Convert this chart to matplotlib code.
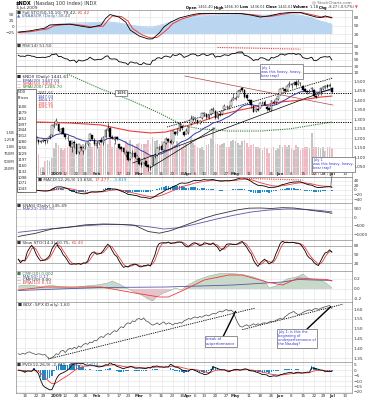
import numpy as np
import pandas as pd
import matplotlib
matplotlib.use("Agg")
import matplotlib.pyplot as plt

# ---- trading days shown (Dec 10 2008 .. Jul 2 2009)
holidays = ["2008-12-25", "2009-01-01", "2009-01-19", "2009-02-16", "2009-04-10", "2009-05-25"]
days = pd.bdate_range("2008-12-10", "2009-07-02")
days = days[~days.isin(pd.to_datetime(holidays))]
all_days = days.append(pd.bdate_range("2009-07-06", "2009-07-17"))

# ---- $NDX daily prices
close = [1215, 1185, 1195, 1185, 1240, 1235, 1215, 1210, 1185, 1180, 1185, 1190, 1185, 1200, 1212,
         1268, 1270, 1290, 1240, 1250, 1225, 1205, 1200, 1160, 1170, 1175, 1120, 1170, 1150, 1150, 1165, 1180, 1225, 1195, 1170,
         1175, 1185, 1180, 1205, 1245, 1255, 1205, 1200, 1205, 1195, 1150, 1145, 1130, 1125, 1085, 1125, 1120, 1100, 1105,
         1065, 1060, 1090, 1055, 1050, 1045, 1105, 1110, 1150, 1155, 1140, 1180, 1195, 1185, 1175, 1240, 1225, 1235, 1275, 1255, 1215, 1240,
         1260, 1300, 1310, 1305, 1280, 1290, 1330, 1335, 1310, 1320, 1350, 1355, 1305, 1330, 1320, 1345, 1370, 1365, 1360, 1395, 1410,
         1412, 1450, 1452, 1455, 1415, 1410, 1395, 1375, 1340, 1355, 1350, 1385, 1385, 1375, 1355, 1350, 1395, 1385, 1405, 1420,
         1460, 1462, 1450, 1475, 1485, 1482, 1490, 1480, 1495, 1488, 1455, 1448, 1440, 1450, 1462, 1420, 1418, 1435, 1462, 1468, 1475, 1470,
         1478, 1440]
open_ = [1225, 1210, 1170, 1195, 1190, 1235, 1235, 1215, 1210, 1190, 1182, 1188, 1190, 1185, 1200,
         1215, 1265, 1275, 1275, 1235, 1252, 1222, 1202, 1188, 1155, 1180, 1172, 1128, 1155, 1135, 1152, 1168, 1190, 1215, 1192,
         1160, 1178, 1190, 1175, 1205, 1245, 1252, 1205, 1190, 1205, 1170, 1155, 1148, 1115, 1130, 1090, 1120, 1125, 1090,
         1095, 1070, 1070, 1080, 1060, 1045, 1060, 1105, 1110, 1150, 1162, 1140, 1178, 1195, 1188, 1180, 1235, 1228, 1240, 1262, 1235, 1225,
         1230, 1275, 1300, 1300, 1295, 1282, 1305, 1325, 1328, 1305, 1325, 1350, 1345, 1305, 1325, 1325, 1355, 1365, 1360, 1370, 1400,
         1408, 1418, 1448, 1465, 1455, 1425, 1400, 1398, 1370, 1342, 1352, 1360, 1385, 1388, 1365, 1358, 1348, 1392, 1390, 1408,
         1428, 1458, 1458, 1452, 1478, 1478, 1485, 1495, 1482, 1490, 1475, 1458, 1450, 1442, 1458, 1455, 1422, 1425, 1432, 1458, 1470, 1478,
         1475, 1462]
high = [1235, 1215, 1200, 1198, 1245, 1245, 1240, 1225, 1212, 1195, 1190, 1195, 1192, 1202, 1220,
        1270, 1285, 1305, 1278, 1252, 1258, 1225, 1215, 1190, 1175, 1190, 1175, 1172, 1160, 1162, 1180, 1188, 1230, 1218, 1200,
        1185, 1192, 1205, 1210, 1250, 1280, 1258, 1215, 1210, 1210, 1172, 1160, 1155, 1140, 1135, 1130, 1140, 1130, 1115,
        1098, 1080, 1102, 1082, 1068, 1062, 1108, 1122, 1152, 1160, 1170, 1182, 1205, 1200, 1195, 1242, 1240, 1255, 1278, 1265, 1240, 1255,
        1265, 1320, 1315, 1312, 1298, 1295, 1335, 1340, 1332, 1325, 1358, 1365, 1348, 1335, 1345, 1350, 1378, 1375, 1372, 1405, 1435,
        1420, 1452, 1458, 1468, 1460, 1430, 1408, 1400, 1372, 1360, 1362, 1388, 1395, 1400, 1368, 1362, 1398, 1400, 1410, 1422,
        1462, 1470, 1460, 1478, 1498, 1488, 1498, 1505, 1515, 1495, 1478, 1462, 1455, 1458, 1470, 1458, 1428, 1445, 1465, 1472, 1480, 1485,
        1492, 1462]
low = [1205, 1180, 1160, 1175, 1188, 1220, 1210, 1200, 1175, 1172, 1178, 1182, 1172, 1178, 1198,
       1212, 1255, 1270, 1235, 1225, 1220, 1195, 1185, 1155, 1130, 1150, 1118, 1120, 1140, 1118, 1145, 1160, 1185, 1192, 1165,
       1150, 1165, 1175, 1165, 1200, 1240, 1200, 1195, 1170, 1190, 1145, 1135, 1125, 1100, 1082, 1085, 1100, 1095, 1085,
       1062, 1050, 1065, 1050, 1030, 1036, 1058, 1098, 1105, 1140, 1138, 1138, 1170, 1180, 1168, 1178, 1218, 1215, 1238, 1245, 1210, 1222,
       1225, 1270, 1290, 1285, 1275, 1275, 1300, 1318, 1300, 1300, 1320, 1340, 1300, 1300, 1315, 1320, 1350, 1355, 1352, 1368, 1398,
       1398, 1415, 1440, 1440, 1410, 1400, 1385, 1360, 1338, 1338, 1345, 1358, 1378, 1372, 1345, 1345, 1345, 1380, 1380, 1400,
       1425, 1450, 1440, 1448, 1470, 1465, 1478, 1470, 1480, 1475, 1450, 1442, 1432, 1438, 1450, 1418, 1410, 1420, 1428, 1455, 1460, 1462,
       1470, 1436]
volume = [1050, 1000, 950, 900, 1150, 1000, 1000, 1300, 800, 750, 250, 300, 500, 550, 500,
          600, 950, 1150, 1050, 950, 900, 950, 1000, 1100, 1250, 1150, 1100, 1100, 1050, 1100, 950, 1000, 1150, 1000, 1050,
          1000, 1000, 1100, 1150, 1250, 1100, 1450, 1000, 1150, 950, 1050, 1000, 1000, 1200, 1150, 1250, 1100, 1000, 1100,
          1150, 1100, 1100, 1100, 1250, 1100, 1350, 1200, 1250, 1100, 1200, 1150, 1250, 1200, 1600, 1150, 1050, 1200, 1100, 1000, 1050, 1100,
          1100, 1350, 1150, 1050, 1000, 950, 1000, 900, 1050, 1100, 1300, 1700, 1100, 1100, 1050, 1100, 1150, 1000, 1000, 1200, 1250,
          1200, 1150, 1050, 1200, 1250, 1150, 1000, 1050, 1100, 1000, 1000, 950, 900, 1000, 950, 800, 950, 1000, 900, 950,
          1050, 1000, 1050, 1000, 1050, 950, 900, 1050, 1000, 900, 950, 1000, 1000, 950, 1500, 1000, 1000, 1000, 950, 1000, 850, 1000,
          1000, 950]
# closes before the visible window, only used to seed the averages
warmup_close = [1190, 1300, 1300, 1340, 1340, 1345, 1400, 1340, 1280, 1310, 1290, 1270, 1200, 1270, 1215, 1190,
                1195, 1120, 1040, 1100, 1170, 1160, 1210, 1220, 1140, 1175, 1200, 1165, 1195, 1250, 1235]

# $NDX:$SPX ratio
ratio = [1.372, 1.368, 1.375, 1.370, 1.378, 1.382, 1.376, 1.372, 1.368, 1.372, 1.370, 1.366, 1.368,
         1.355, 1.348, 1.352,
         1.360, 1.372, 1.368, 1.385, 1.390, 1.378, 1.392, 1.400, 1.395, 1.405,
         1.398, 1.412, 1.405, 1.418, 1.425, 1.420, 1.432, 1.428, 1.440, 1.438,
         1.452, 1.460, 1.455, 1.468, 1.475, 1.470, 1.482, 1.490, 1.485, 1.500,
         1.510, 1.505, 1.522, 1.530, 1.525, 1.540, 1.535, 1.548, 1.552, 1.545,
         1.555, 1.540, 1.535, 1.525, 1.518, 1.522, 1.530, 1.520, 1.528, 1.535,
         1.522, 1.530, 1.526, 1.518, 1.528, 1.525, 1.532, 1.528, 1.540, 1.545,
         1.552, 1.548, 1.556, 1.560, 1.555, 1.562, 1.558, 1.566, 1.570, 1.565,
         1.572, 1.578, 1.575, 1.582, 1.590, 1.585, 1.592, 1.598, 1.590, 1.595,
         1.585, 1.555, 1.530, 1.512, 1.508, 1.515, 1.520, 1.512, 1.518, 1.525,
         1.518, 1.525, 1.520, 1.528, 1.530, 1.527, 1.534, 1.538, 1.536, 1.542,
         1.548, 1.552, 1.548, 1.560, 1.568, 1.578, 1.582, 1.588, 1.578, 1.572,
         1.575, 1.582, 1.588, 1.592, 1.596, 1.592, 1.600, 1.603, 1.598, 1.604,
         1.607, 1.612, 1.615, 1.618, 1.603]

# moving averages (day index, value)
sma50_idx = [0, 10, 23, 37, 50, 59, 66, 72, 81, 90, 99, 108, 117, 126, 135, 140]
sma50 = [1285, 1285, 1280, 1270, 1238, 1228, 1233, 1254, 1285, 1322, 1348, 1369, 1390, 1400, 1416, 1421]
sma200_idx = [20, 23, 36, 50, 63, 74, 81, 94, 108, 121, 140]
sma200 = [1548, 1531, 1463, 1400, 1332, 1266, 1250, 1238, 1238, 1249, 1285]
levels = [1436, 1285]

# top panel
p1_black_idx = [0, 5, 12, 14, 19, 23, 28, 32, 37, 39, 41, 45, 48, 50, 54, 58, 60, 63, 65, 68, 72, 77, 81,
                90, 99, 104, 108, 112, 117, 121, 126, 128, 133, 135, 137, 140]
p1_black = [27, 31, 41, 52, 54, 55, 48, 43, 52, 75, 89, 80, 62, 34, 13, 2.5, 3, 24, 45, 62, 77, 87, 93,
            92, 93, 87, 80, 84, 93, 96, 96, 91, 80, 78, 84, 77]
p1_red_idx = [0, 6, 13, 16, 20, 24, 29, 33, 38, 40, 42, 46, 49, 51, 55, 59, 62, 64, 67, 69, 73, 78, 82,
              91, 100, 105, 109, 113, 118, 122, 127, 129, 134, 136, 138, 140]
p1_red = [25, 29, 38, 49, 53, 55, 50, 45, 48, 68, 84, 82, 66, 40, 18, 6, 8, 20, 40, 57, 73, 85, 91,
          93, 92, 88, 82, 83, 90, 95, 95, 92, 83, 79, 81, 79]
p1_area_idx = [0, 5, 10, 12, 15, 20, 30, 36, 41, 46, 50, 55, 60, 65, 70, 75, 80, 90, 100, 110, 120, 125, 130, 135, 140]
p1_area = [25, 26, 30, 45, 52, 58, 60, 62, 63, 58, 52, 46, 45, 55, 68, 78, 84, 88, 90, 87, 90, 88, 80, 66, 55]

# breadth panel
p5_idx = [0, 8, 15, 22, 30, 38, 45, 52, 58, 63, 68, 73, 78, 83, 88, 93, 98, 103, 108, 113, 118, 123, 128, 133, 138, 140]
p5_line = [-1150, -950, -700, -600, -450, -400, -420, -480, -850, -950, -800, -550, -300, -50, 150, 300, 450, 550,
           560, 530, 580, 560, 470, 380, 300, 240]
p5_ma_idx = [0, 10, 20, 30, 40, 50, 58, 65, 72, 80, 88, 96, 104, 112, 120, 128, 134, 140]
p5_ma = [-900, -750, -620, -500, -420, -450, -560, -700, -620, -380, -120, 120, 320, 440, 500, 480, 420, 330]

# money flow panel
cmf_idx = [0, 5, 10, 15, 20, 25, 30, 35, 40, 42, 45, 48, 50, 55, 58, 60, 62, 65, 68, 70, 73, 75, 80, 85, 90, 95,
           100, 105, 110, 112, 115, 120, 125, 127, 130, 135, 138, 140]
cmf = [0.06, 0.08, 0.05, 0.07, 0.04, 0.03, 0.06, 0.08, 0.12, 0.16, 0.10, 0.03, -0.02, -0.12, -0.20, -0.24, -0.15,
       -0.08, -0.03, 0.02, -0.02, 0.06, 0.18, 0.26, 0.31, 0.31, 0.29, 0.24, 0.16, 0.02, 0.06, 0.20, 0.25, 0.30,
       0.20, 0.18, 0.10, 0.02]
cmf_ema_idx = [0, 12, 37, 52, 63, 67, 74, 83, 94, 100, 111, 118, 125, 132, 138, 140]
cmf_ema = [-0.02, 0.04, 0.04, -0.08, -0.16, -0.16, -0.02, 0.18, 0.28, 0.28, 0.14, 0.08, 0.22, 0.20, 0.19, 0.16]
cmf_ma_idx = [0, 37, 66, 96, 118, 125, 140]
cmf_ma = [-0.03, 0.03, 0.04, 0.08, 0.14, 0.19, 0.17]

# hand-drawn trend lines (day index, value)
px_up = ([66.4, 140.5], [1259, 1516])
px_sup = ([51.2, 140.5], [1071, 1463])
px_low = ([58.8, 87.8], [1045, 1254])
px_down = ([74.4, 140.5], [1526, 1374])
rsi_div = ([89, 126], [87, 82])
macd_div = ([99, 127], [50, 42])
ratio_t1 = ([13.3, 105.7], [1.345, 1.605])
ratio_t2 = ([100, 145], [1.495, 1.625])

tick_dates = ["2008-12-15", "2008-12-22", "2008-12-29", "2009-01-02", "2009-01-12", "2009-01-20", "2009-01-26",
              "2009-02-02", "2009-02-09", "2009-02-17", "2009-02-23", "2009-03-02", "2009-03-09", "2009-03-16",
              "2009-03-23", "2009-03-30", "2009-04-01", "2009-04-06", "2009-04-13", "2009-04-20", "2009-04-27",
              "2009-05-01", "2009-05-11", "2009-05-18", "2009-05-26", "2009-06-01", "2009-06-08", "2009-06-15",
              "2009-06-22", "2009-06-29", "2009-07-01", "2009-07-13"]
tick_labels = ["15", "22", "29", "2009", "12", "20", "26", "Feb", "9", "17", "23", "Mar", "9", "16", "23", "30", "Apr",
               "6", "13", "20", "27", "May", "11", "18", "26", "Jun", "8", "15", "22", "29", "Jul", "13"]
bold_labels = {"2009", "Feb", "Mar", "Apr", "May", "Jun", "Jul"}
tick_idx = [all_days.get_loc(pd.Timestamp(d)) for d in tick_dates]
# labels that crowd a neighbour get nudged: position in list -> (ha, shift in days)
label_nudge = {2: ("right", 0.5), 3: ("left", -0.5), 15: ("right", 0.3), 29: ("right", 0.5), 30: ("left", -0.3)}

# ---- indicators computed from the prices
x = np.arange(len(days))
c_all = pd.Series(warmup_close + close, dtype=float)
n0 = len(warmup_close)
ema20 = c_all.ewm(span=20, adjust=False).mean().values[n0:]
macd_s = c_all.ewm(span=12, adjust=False).mean() - c_all.ewm(span=26, adjust=False).mean()
macd_sig = macd_s.ewm(span=9, adjust=False).mean()
macd = macd_s.values[n0:]
macd_sig = macd_sig.values[n0:]
d = c_all.diff()
gain = d.clip(lower=0).ewm(alpha=1 / 14, adjust=False).mean()
loss = (-d.clip(upper=0)).ewm(alpha=1 / 14, adjust=False).mean()
rsi = (100 - 100 / (1 + gain / loss)).values[n0:]

c = pd.Series(close, dtype=float)
hh = pd.Series(high, dtype=float).rolling(14, min_periods=1).max()
ll = pd.Series(low, dtype=float).rolling(14, min_periods=1).min()
stok = (100 * (c - ll) / (hh - ll)).rolling(3, min_periods=1).mean()
stod = stok.rolling(3, min_periods=1).mean()

v = pd.Series(volume, dtype=float)
v12 = v.ewm(span=12, adjust=False).mean()
v26 = v.ewm(span=26, adjust=False).mean()
pvo = 100 * (v12 - v26) / v26
pvo_sig = pvo.ewm(span=9, adjust=False).mean()

# ---- figure
W, H = 367, 400
fig = plt.figure(figsize=(W / 100, H / 100), dpi=100)
fig.patch.set_facecolor("white")
X0, X1 = 16, 352
FS = 3.1
RED = "#ee3b3b"
BLUE = "#3a3aa8"


def panel(top, bot):
    ax = fig.add_axes([X0 / W, 1 - bot / H, (X1 - X0) / W, (bot - top) / H])
    ax.set_xlim(-1, 149)
    ax.set_xticks(tick_idx)
    ax.tick_params(axis="x", length=0, labelbottom=False)
    ax.yaxis.tick_right()
    ax.tick_params(axis="y", length=0, labelsize=FS, pad=1.2, colors="#333333")
    ax.grid(True, color="#e2e2e2", lw=0.4)
    ax.set_axisbelow(True)
    for s in ax.spines.values():
        s.set_color("#8c8c8c")
        s.set_linewidth(0.5)
    return ax


def date_labels(ax, y, va, skip_left=False):
    for k, (ti, tl) in enumerate(zip(tick_idx, tick_labels)):
        if skip_left and ti < 9:
            continue
        ha, dx = label_nudge.get(k, ("center", 0))
        ax.text(ti + dx, y, tl, transform=ax.get_xaxis_transform(), fontsize=3.0, ha=ha, va=va,
                color="#333333", fontweight="bold" if tl in bold_labels else "normal", clip_on=False)


ov = fig.add_axes([0, 0, 1, 1], zorder=20)
ov.set_xlim(0, W)
ov.set_ylim(H, 0)
ov.axis("off")


def chain(xp, yp, parts, size=FS):
    t = None
    for p in parts:
        s, col = p[0], p[1]
        w = p[2] if len(p) > 2 else "normal"
        if t is None:
            t = ov.text(xp, yp, s, color=col, fontsize=size, va="center", ha="left", fontweight=w)
        else:
            t = ov.annotate(s, xy=(1, 0.5), xycoords=t, color=col, fontsize=size,
                            va="center", ha="left", fontweight=w)
    return t


# header
chain(16, 3.5, [("$NDX", "black", "bold"), (" (Nasdaq 100 Index) INDX", "#333333")], size=3.6)
ov.text(16, 8, "3-Jul-2009", fontsize=3.2, color="#333333", va="center")
ov.text(352, 2.5, "@ StockCharts.com", fontsize=2.9, color="#666666", va="center", ha="right")
chain(186, 7.5, [("Open ", "black", "bold"), ("1461.40 ", "#333333"), ("High ", "black", "bold"),
                 ("1466.30 ", "#333333"), ("Low ", "black", "bold"), ("1436.01 ", "#333333"),
                 ("Close ", "black", "bold"), ("1441.61 ", "#333333"), ("Volume ", "black", "bold"),
                 ("1.1B ", "#333333"), ("Chg ", "black", "bold"), ("-8.27 (-0.57%) ", "#333333"),
                 ("\u25bc", RED)], size=2.6)

# ---- panel 1
ax1 = panel(10, 43)
ax1.set_ylim(-11.7, 105)
ax1.set_yticks([20, 50, 80])
ax1.fill_between(p1_area_idx, 22, p1_area, color="#b9d5ef", lw=0)
ax1.plot(p1_area_idx, p1_area, color="#9cc2e6", lw=0.4)
ax1.plot(p1_red_idx, p1_red, color=RED, lw=0.7)
ax1.plot(p1_black_idx, p1_black, color="black", lw=0.6)
sec = ax1.secondary_yaxis("left", functions=(lambda q: (q - 48.4) / 0.848, lambda L: L * 0.848 + 48.4))
sec.set_yticks([-25, 0, 25, 50])
sec.tick_params(length=0, labelsize=FS, pad=1.2, colors="#333333")
sec.spines["left"].set_visible(False)
chain(17, 13, [("\u25a0 Full STO(50,10,10) 79.42, ", "#333333"), ("81.42", RED)])
chain(17, 16.5, [("\u25b2 $NAA50R (Daily) 48.40", "#4a6fb0")])

# ---- panel 2 RSI
ax2 = panel(43, 73)
ax2.set_ylim(8.5, 100.8)
ax2.set_yticks([10, 30, 50, 70, 90])
ax2.axhline(70, color="#999999", lw=0.5)
ax2.axhline(30, color="#999999", lw=0.5)
ax2.fill_between(x, 70, rsi, where=rsi >= 70, interpolate=True, color="#3d7a3d", lw=0)
ax2.fill_between(x, 30, rsi, where=rsi <= 30, interpolate=True, color="#8a4a8a", lw=0)
ax2.plot(x, rsi, color="black", lw=0.6)
ax2.plot(*rsi_div, color=RED, lw=0.8, ls=(0, (1, 1)))
chain(17, 46, [("\u25a0 RSI(14) 51.50", "#333333")])

# ---- panel 3 price + volume
ax3 = panel(73, 177)
axv = ax3.twinx()
ax3.set_zorder(axv.get_zorder() + 1)
ax3.patch.set_visible(False)
ax3.yaxis.tick_right()
axv.yaxis.tick_left()
axv.set_ylim(-60, 3600)
axv.set_yticks([250, 500, 750, 1000, 1250, 1500])
axv.set_yticklabels(["250M", "500M", "750M", "1.0B", "1.25B", "1.5B"])
axv.tick_params(axis="y", length=0, labelsize=2.8, pad=1, colors="#333333")
for s in axv.spines.values():
    s.set_visible(False)
prev = [warmup_close[-1]] + close[:-1]
vcol = ["#c4c4c4" if cc >= pp else "#f3b9c2" for cc, pp in zip(close, prev)]
axv.bar(x, volume, width=0.75, color=vcol, lw=0)

ax3.set_ylim(997.4, 1541.9)
ax3.set_yticks(np.arange(1050, 1501, 50))
ax3.set_yticklabels([f"{t:,}" for t in range(1050, 1501, 50)])
ax3.tick_params(axis="y", length=0, labelsize=FS, pad=1.2, colors="#333333")
for lv in levels:
    ax3.axhline(lv, color="black", lw=0.7, ls=(0, (1.2, 1.2)))
ax3.text(46, levels[0], "1436", fontsize=2.8, ha="center", va="center",
         bbox=dict(boxstyle="square,pad=0.25", fc="white", ec="#444444", lw=0.4))
ax3.plot(sma200_idx, sma200, color="#2e7d32", lw=0.8, ls=(0, (1, 1)))
ax3.plot(sma50_idx, sma50, color=RED, lw=0.8)
ax3.plot(x, ema20, color=BLUE, lw=0.7)
ax3.plot(*px_up, color="black", lw=0.6, ls=(0, (1.5, 1.2)))
ax3.plot(*px_sup, color="black", lw=0.5)
ax3.plot(*px_low, color="black", lw=0.5)
ax3.plot(*px_down, color="#b04848", lw=0.5)
for i in range(len(days)):
    o, cl = open_[i], close[i]
    up = cl >= o
    ax3.vlines(i, low[i], high[i], color="black", lw=0.4, zorder=3)
    ax3.bar(i, max(abs(cl - o), 1.5), bottom=min(o, cl), width=0.75,
            color="white" if up else "black", edgecolor="black", lw=0.3, zorder=4)
date_labels(ax3, 0.012, "bottom", skip_left=True)
chain(17, 77, [("\u25a0 $NDX (Daily) 1441.61", "#222222")])
chain(17, 80.5, [("\u2014 EMA(20) 1447.03", BLUE)])
chain(17, 84, [("\u2014 SMA(50) 1404.17", RED)])
chain(17, 87.5, [("\u2014 SMA(200) 1285.70", "#2e7d32")])
for k, (s, col) in enumerate([("1441.61", "#555555"), ("1447.03", BLUE), ("1404.17", BLUE),
                              ("1385.95", RED), ("1285.70", RED)]):
    ov.text(38, 93 + k * 3.6, s, fontsize=2.8, color=col, va="center")

# left list box
box_rows = ["NDX", "Prices", "1506", "1479", "1452", "1397", "1344", "1312", "1280", "1256",
            "1229", "1197", "1160", "1132", "1098", "1071", "1043"]
ov.add_patch(plt.Rectangle((16.5, 89), 19.5, 103, fc="white", ec="#444444", lw=0.5, zorder=1))
for k, s in enumerate(box_rows):
    ov.text(18, 92 + k * 5.9 + (3 if k > 1 else 0), s, fontsize=2.7, color="#222222", va="center")

# ---- panel 4 MACD
ax4 = panel(177, 203)
ax4.set_ylim(-55, 55)
ax4.set_yticks([-40, -20, 0, 20, 40])
ax4.bar(x, macd - macd_sig, width=0.7, color="#1f88c9", lw=0)
ax4.plot(x, macd_sig, color=RED, lw=0.6)
ax4.plot(x, macd, color="black", lw=0.6)
ax4.plot(*macd_div, color=RED, lw=0.8, ls=(0, (1, 1)))
chain(38, 180, [("\u25a0 MACD(12,26,9) 13.658, ", "#333333"), ("17.477", RED), (", -3.819", "#1f88c9")])

# ---- panel 5
ax5 = panel(203, 240)
ax5.set_ylim(-1360, 860)
ax5.set_yticks([-1000, -500, 0, 500])
ax5.plot(p5_ma_idx, p5_ma, color="#5555aa", lw=0.6)
ax5.plot(p5_idx, p5_line, color="#333333", lw=0.6)
chain(17, 206, [("\u25a0 $NASI (Daily) 145.49", "#333333")])
chain(17, 209.5, [("\u2014 MA(20) 296.70", "#5555aa")])

# ---- panel 6 Slow STO
ax6 = panel(240, 271)
ax6.set_ylim(-8, 101)
ax6.set_yticks([20, 50, 80])
ax6.axhline(80, color="#999999", lw=0.5)
ax6.axhline(20, color="#999999", lw=0.5)
ax6.plot(x, stod, color=RED, lw=0.6)
ax6.plot(x, stok, color="black", lw=0.6)
chain(17, 243, [("\u25a0 Slow STO(14,3) 60.75, ", "#333333"), ("61.40", RED)])

# ---- panel 7 CMF
ax7 = panel(271, 302)
ax7.set_ylim(-0.26, 0.36)
ax7.set_yticks([-0.2, 0.0, 0.2])
ax7.set_yticklabels(["-0.2", "0.0", "0.2"])
cmf_a = np.array(cmf)
ax7.fill_between(cmf_idx, 0, cmf_a, where=cmf_a >= 0, interpolate=True, color="#c9d9c9", lw=0)
ax7.fill_between(cmf_idx, 0, cmf_a, where=cmf_a <= 0, interpolate=True, color="#e6c3cc", lw=0)
ax7.plot(cmf_idx, cmf_a, color="#9cb39c", lw=0.4)
ax7.plot(cmf_ma_idx, cmf_ma, color="#5555aa", lw=0.6)
ax7.plot(cmf_ema_idx, cmf_ema, color=RED, lw=0.6)
chain(17, 273.5, [("\u25a0 CMF(20) 0.002", "#4c7a4c")])
chain(17, 276.7, [("\u2014 MA(50) 0.17", "#5555aa")])
chain(17, 279.9, [("\u2014 CMF(20) 0.00", "#333333")])
chain(17, 283.1, [("\u2014 EMA(10) 0.14", RED)])

# ---- panel 8 ratio
ax8 = panel(302, 362)
ax8.set_ylim(1.33, 1.636)
ax8.set_yticks([1.35, 1.40, 1.45, 1.50, 1.55, 1.60])
ax8.set_yticklabels(["1.35", "1.40", "1.45", "1.50", "1.55", "1.60"])
ax8.plot(*ratio_t1, color="black", lw=0.6, ls=(0, (1.5, 1.2)))
ax8.plot(*ratio_t2, color="black", lw=0.6, ls=(0, (1.5, 1.2)))
ax8.plot(x, ratio, color="#444444", lw=0.5)
chain(17, 305, [("\u25a0 $NDX:$SPX (Daily) 1.60", "#333333")])

# ---- panel 9 PVO
ax9 = panel(362, 393)
ax9.set_ylim(-21, 7.5)
ax9.set_yticks([-20, -15, -10, -5, 0, 5])
ax9.bar(x, pvo - pvo_sig, width=0.7, color="#1f88c9", lw=0)
ax9.plot(x, pvo_sig, color=RED, lw=0.6)
ax9.plot(x, pvo, color="black", lw=0.6)
date_labels(ax9, -0.03, "top")
chain(17, 365, [("\u25a0 PVO(12,26,9) -2.315, ", "#333333"), ("-1.373", RED), (", -1.314", "#1f88c9")])

# ---- annotations
note_box = dict(boxstyle="square,pad=0.35", fc="white", ec="#666666", lw=0.5)
ov.text(261, 71.5, "July 1\nwas this heavy, heavy,\nbear trap?", fontsize=2.5, color="#3333cc",
        va="center", ha="left", linespacing=1.0, bbox=note_box)
ov.annotate("July 1\nwas this heavy, heavy,\nbear trap?", xy=(139.5, 14), xycoords=ax4.transData,
            xytext=(313, 164.5), textcoords=ov.transData, fontsize=2.5, color="#3333cc",
            va="center", ha="left", linespacing=1.0, bbox=note_box, annotation_clip=False,
            arrowprops=dict(arrowstyle="-", color="#555555", lw=0.5, shrinkA=0, shrinkB=0))
ov.annotate("break of\noutperformance", xy=(97, 1.588), xycoords=ax8.transData,
            xytext=(206, 341.5), textcoords=ov.transData, fontsize=2.6, color="#3333cc",
            va="center", ha="left", linespacing=1.0, bbox=note_box, annotation_clip=False,
            arrowprops=dict(arrowstyle="-", color="black", lw=1.0, shrinkA=0, shrinkB=0))
ov.annotate("July 1: is this the\nbeginning of\nunderperformance of\nthe Nasdaq?", xy=(139.5, 1.612),
            xycoords=ax8.transData, xytext=(278, 338.5), textcoords=ov.transData, fontsize=2.5,
            color="#3333cc", va="center", ha="left", linespacing=1.0, bbox=note_box, annotation_clip=False,
            arrowprops=dict(arrowstyle="-", color="black", lw=1.0, shrinkA=0, shrinkB=0))

fig.savefig("out.png", dpi=100)
